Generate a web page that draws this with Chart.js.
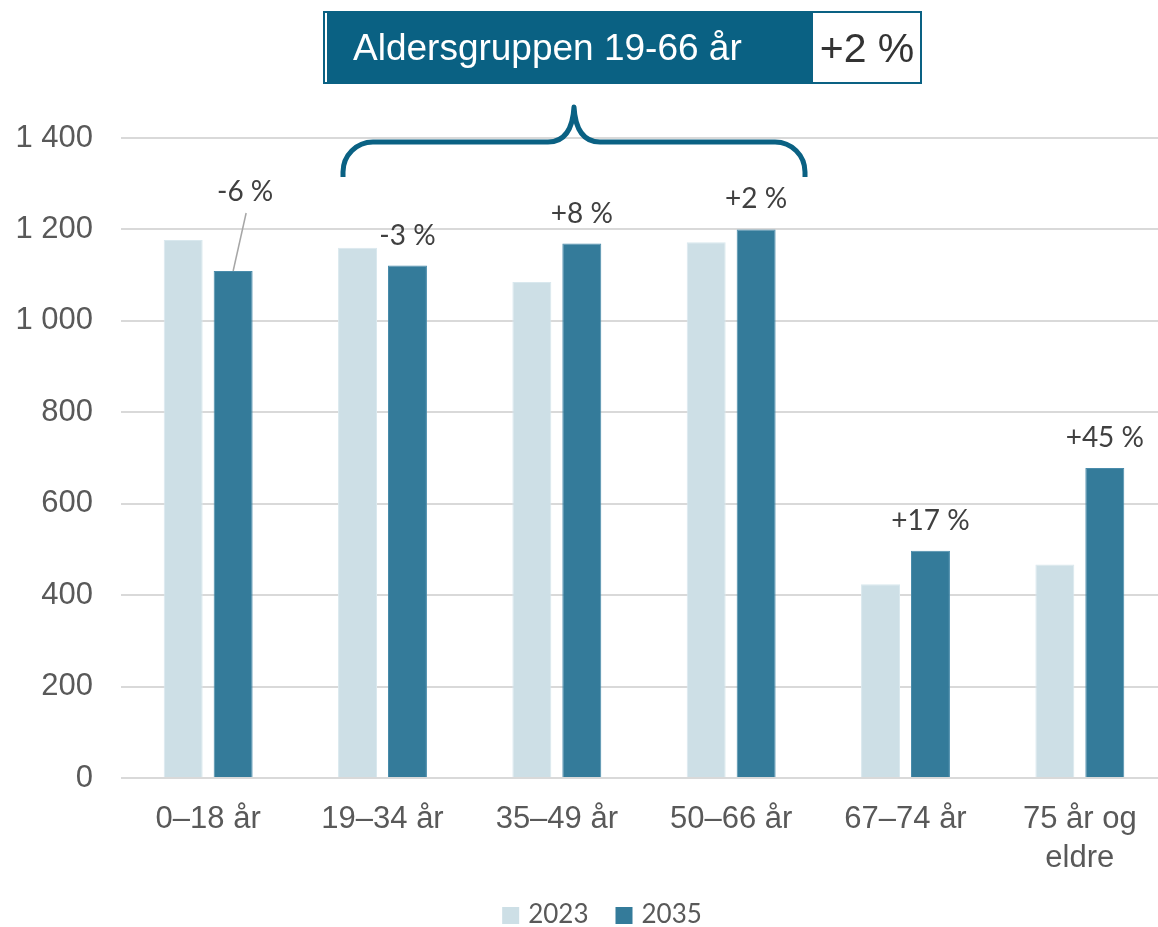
<!DOCTYPE html>
<html><head><meta charset="utf-8">
<script src="https://cdn.jsdelivr.net/npm/chart.js@4.4.1/dist/chart.umd.min.js"></script>
<style>
html,body{margin:0;padding:0;background:#fff;overflow:hidden;}
#wrap{width:1158px;height:927px;overflow:hidden;position:relative;background:#fff;}
canvas{display:block;}
</style></head><body>
<div id="wrap"><canvas id="c" width="1167" height="927" style="width:1167px;height:927px"></canvas></div>
<script>
const categories = ['0–18 år','19–34 år','35–49 år','50–66 år','67–74 år',['75 år og','eldre']];
const seriesNames = ['2023','2035'];
const values2023 = [1177,1160,1085,1172,424,467];
const values2035 = [1109,1121,1169,1200,497,678];
const changeLabels = ['-6 %','-3 %','+8 %','+2 %','+17 %','+45 %'];
const yTickValues = [0,200,400,600,800,1000,1200,1400];
const groupTitle = 'Aldersgruppen 19-66 år';
const groupChange = '+2 %';

const TEAL = '#0a6183';

const extras = {
  id: 'extras',
  afterDatasetsDraw(chart) {
    const ctx = chart.ctx;
    const meta = chart.getDatasetMeta(1);
    ctx.save();
    ctx.font = '28px Lato';
    ctx.fillStyle = '#404040';
    ctx.textAlign = 'center';
    ctx.textBaseline = 'middle';
    meta.data.forEach((bar, i) => {
      let x = bar.x, y = bar.y - 31;
      if (i === 0) {
        x = bar.x + 12; y = bar.y - 80;
        ctx.strokeStyle = '#a6a6a6';
        ctx.lineWidth = 1.5;
        ctx.beginPath();
        ctx.moveTo(bar.x, bar.y);
        ctx.lineTo(x + 1, y + 22);
        ctx.stroke();
      }
      ctx.fillText(changeLabels[i], x, y + 1);
    });

    // header box
    ctx.fillStyle = '#ffffff';
    ctx.fillRect(323, 11, 599, 72);
    ctx.fillStyle = TEAL;
    ctx.fillRect(327, 12, 486, 71);
    ctx.strokeStyle = TEAL;
    ctx.lineWidth = 2;
    ctx.strokeRect(324, 12, 597, 71);
    ctx.fillStyle = '#ffffff';
    ctx.textAlign = 'left';
    ctx.textBaseline = 'alphabetic';
    ctx.font = '37px "Liberation Sans", Arial, sans-serif';
    ctx.fillText(groupTitle, 353, 60);
    ctx.fillStyle = '#333333';
    ctx.textAlign = 'center';
    ctx.font = '41px "Liberation Sans", Arial, sans-serif';
    ctx.fillText(groupChange, 867, 62);

    // brace
    ctx.strokeStyle = TEAL;
    ctx.lineWidth = 5;
    ctx.lineCap = 'butt';
    ctx.lineJoin = 'round';
    ctx.beginPath();
    ctx.moveTo(343, 177);
    ctx.arcTo(343, 142, 375, 142, 30);
    ctx.lineTo(548, 142);
    ctx.quadraticCurveTo(572, 142, 574, 107);
    ctx.quadraticCurveTo(576, 142, 600, 142);
    ctx.lineTo(775, 142);
    ctx.arcTo(805, 142, 805, 177, 30);
    ctx.lineTo(805, 177);
    ctx.stroke();

    // legend (from datasets)
    ctx.font = '26px Lato';
    ctx.textAlign = 'left';
    ctx.textBaseline = 'alphabetic';
    const ds = chart.data.datasets;
    const box = 17, gapText = 9, gapItem = 27;
    const widths = ds.map(d => ctx.measureText(d.label).width);
    let total = 0;
    widths.forEach((w, i) => { total += box + gapText + w + (i < widths.length - 1 ? gapItem : 0); });
    let lx = 602 - total / 2;
    ds.forEach((d, i) => {
      ctx.fillStyle = d.backgroundColor;
      ctx.fillRect(lx, 907, box, box);
      ctx.fillStyle = '#595959';
      ctx.fillText(d.label, lx + box + gapText, 923);
      lx += box + gapText + widths[i] + gapItem;
    });
    ctx.restore();
  }
};

new Chart(document.getElementById('c'), {
  type: 'bar',
  data: {
    labels: categories,
    datasets: [
      { label: seriesNames[0], data: values2023, backgroundColor: '#cddfe6', borderColor: '#d9e8ee', borderWidth: 1,
        categoryPercentage: 0.573, barPercentage: 0.78 },
      { label: seriesNames[1], data: values2035, backgroundColor: '#347b9a', borderColor: '#4a8cab', borderWidth: 1,
        categoryPercentage: 0.573, barPercentage: 0.78 }
    ]
  },
  options: {
    responsive: false,
    animation: false,
    devicePixelRatio: 1,
    layout: { padding: { left: 0, right: 0, top: 138, bottom: 52 } },
    plugins: {
      legend: { display: false },
      tooltip: { enabled: false }
    },
    scales: {
      x: {
        grid: { display: false, drawTicks: false },
        border: { display: false },
        ticks: {
          color: '#595959',
          padding: 22,
          maxRotation: 0,
          autoSkip: false,
          font: { family: '"Liberation Sans", Arial, sans-serif', size: 31, lineHeight: 1.26 }
        },
        afterFit(scale) { scale.height = 97; }
      },
      y: {
        min: 0, max: 1400,
        afterBuildTicks(scale) { scale.ticks = yTickValues.map(v => ({ value: v })); },
        grid: { color: '#d9d9d9', lineWidth: 2, drawTicks: false },
        border: { display: false },
        ticks: {
          color: '#595959',
          padding: 28,
          font: { family: '"Liberation Sans", Arial, sans-serif', size: 31 },
          callback: v => String(v).replace(/\B(?=(\d{3})+(?!\d))/g, ' ')
        },
        afterFit(scale) { scale.width = 121; }
      }
    }
  },
  plugins: [extras]
});
</script>
</body></html>
